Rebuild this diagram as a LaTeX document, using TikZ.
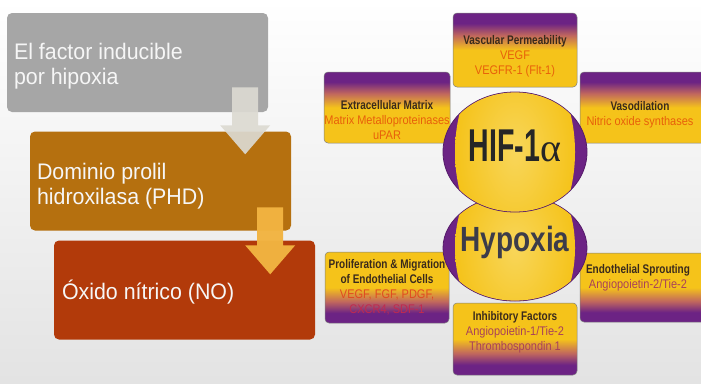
\documentclass[tikz,border=0pt]{standalone}
\usepackage{fontspec}
\setmainfont{Liberation Sans}
\newfontfamily\leftfont[FakeStretch=0.95]{Liberation Sans}
\newfontfamily\condfont[FakeStretch=0.8]{Liberation Sans}
\newfontfamily\subfont[FakeStretch=0.88]{Liberation Sans}
\newfontfamily\hiffont[FakeStretch=0.62]{Liberation Sans}
\newfontfamily\greekfont{Liberation Serif}
\usetikzlibrary{calc,shapes.geometric,fadings}

\definecolor{hyyellow}{HTML}{F5C31A}
\definecolor{hylight}{HTML}{F8D65A}
\definecolor{hypurple}{HTML}{6C2384}
\definecolor{hymid}{HTML}{C0665E}
\definecolor{titletext}{HTML}{3A2A1C}
\definecolor{orangetext}{HTML}{E8600A}
\definecolor{redtext}{HTML}{E04A20}
\definecolor{crimsontext}{HTML}{C02A50}
\definecolor{plumtext}{HTML}{A8405A}
\definecolor{hypoxiatext}{HTML}{3C3C4A}
\definecolor{lefttextcol}{HTML}{F6F6F6}
\definecolor{greybox}{HTML}{A6A6A6}
\definecolor{brownbox}{HTML}{B5700F}
\definecolor{redbox}{HTML}{B23A0A}
\definecolor{palearrow}{HTML}{DCDAD2}
\definecolor{goldarrow}{HTML}{F2B441}

\pgfdeclareverticalshading{purpletop}{100bp}{color(0bp)=(hyyellow); color(25bp)=(hyyellow); color(50bp)=(hyyellow); color(60bp)=(hymid); color(68bp)=(hypurple); color(100bp)=(hypurple)}
\pgfdeclareverticalshading{purplebottom}{100bp}{color(0bp)=(hypurple); color(32bp)=(hypurple); color(40bp)=(hymid); color(50bp)=(hyyellow); color(100bp)=(hyyellow)}
\pgfdeclareradialshading{ballmask}{\pgfpointorigin}{color(0bp)=(pgftransparent!0); color(30bp)=(pgftransparent!0); color(50bp)=(pgftransparent!100)}
\pgfdeclarefading{ballfade}{\pgfuseshading{ballmask}}

\newcommand\boxtitle[1]{{\condfont\bfseries\color{titletext}#1}}

\begin{document}
\begin{tikzpicture}[x=1pt, y=-1pt,
    leftbox/.style={rounded corners=5pt, minimum width=261pt, minimum height=99pt, inner sep=0pt},
    lefttext/.style={anchor=north west, align=left, inner sep=0pt, text=lefttextcol, font=\leftfont\fontsize{22.5}{24.5}\selectfont},
    effectbox/.style={draw=black!50, line width=0.5pt, rounded corners=4pt, inner sep=0pt, minimum width=124pt, minimum height=71pt},
    purpletopbox/.style={effectbox, shading=purpletop},
    purplebottombox/.style={effectbox, shading=purplebottom},
    effecttext/.style={align=center, inner sep=0pt, text=orangetext, font=\subfont\fontsize{12.5}{15}\selectfont},
    ball/.style={ellipse, minimum width=144pt, draw=hypurple!80!black, line width=0.8pt, fill=hypurple, inner sep=0pt}]
% Variables: 1 := tip, 2 := colour.
\def\blockarrow(#1)#2{
    \fill[#2] ($ (#1) + (-13,-67) $) -- ($ (#1) + (13,-67) $) -- ($ (#1) + (13,-29) $)
        -- ($ (#1) + (25,-29) $) -- (#1) -- ($ (#1) + (-25,-29) $) -- ($ (#1) + (-13,-29) $) -- cycle;
}
% Variables: 1 := ball, 2 := half height, 3 := glow height.
\def\ballglow(#1)#2#3{
    \begin{scope}
        \clip (#1.center) ellipse [x radius=71.6, y radius=#2];
        \shade[inner color=hylight, outer color=hyyellow, path fading=ballfade] (#1.center) ellipse [x radius=60, y radius=#3];
    \end{scope}
}
\useasboundingbox (0,0) rectangle (701,383);
\shade[top color=white, bottom color=black!11] (0,0) rectangle (701,383);

% left column
\node[leftbox, fill=greybox] (factor) at (137.5,62.5) {};
\node[lefttext] (factortext) at ($ (factor.north west) + (7,30.5) $) {El factor inducible\\por hipoxia};
\node[leftbox, fill=brownbox] (phd) at (160.5,181) {};
\node[lefttext] (phdtext) at ($ (phd.north west) + (7,32) $) {Dominio prolil\\hidroxilasa (PHD)};
\coordinate (tip1) at ($ (phd.north east) + (-46,23) $);
\blockarrow(tip1){palearrow, opacity=0.92}
\node[leftbox, fill=redbox] (no) at (184.5,290) {};
\node[lefttext, anchor=base west] (notext) at ($ (no.north west) + (8,59) $) {Óxido nítrico (NO)};
\coordinate (tip2) at ($ (no.north east) + (-45,34) $);
\blockarrow(tip2){goldarrow, opacity=0.97}

% effect boxes
\node[purpletopbox, minimum height=74pt] (perm) at (515,50) {};
\node[purpletopbox, minimum width=126pt] (ecm) at (387,107.5) {};
\node[purpletopbox, minimum width=132pt] (vaso) at (646,107.5) {};
\node[purplebottombox] (prolif) at (387,287.5) {};
\node[purplebottombox, minimum height=72pt] (inhib) at (515,339) {};
\node[purplebottombox, minimum width=132pt, minimum height=69pt] (sprout) at (646,287.5) {};

\node[effecttext] (permtext) at ($ (perm) + (0,6) $) {\boxtitle{Vascular Permeability}\\VEGF\\VEGFR-1 (Flt-1)};
\node[effecttext] (ecmtext) at ($ (ecm) + (0,13) $) {\boxtitle{Extracellular Matrix}\\Matrix Metalloproteinases\\uPAR};
\node[effecttext] (vasotext) at ($ (vaso) + (-6,7.5) $) {\boxtitle{Vasodilation}\\Nitric oxide synthases};
\node[effecttext] (proliftext) at ($ (prolif) + (0,0) $) {\boxtitle{Proliferation \& Migration}\\\boxtitle{of Endothelial Cells}\\{\color{redtext}VEGF, FGF, PDGF,}\\{\color{crimsontext}CXCR4, SDF-1}};
\node[effecttext, text=plumtext] (inhibtext) at ($ (inhib) + (0,-7) $) {\boxtitle{Inhibitory Factors}\\Angiopoietin-1/Tie-2\\Thrombospondin 1};
\node[effecttext, text=plumtext] (sprouttext) at ($ (sprout) + (-8,-10) $) {\boxtitle{Endothelial Sprouting}\\Angiopoietin-2/Tie-2};

% centre
\node[ball, minimum height=106pt] (hypoxia) at (515,248) {};
\ballglow(hypoxia){52.6}{90}
\node[ball, minimum height=120pt] (hif) at (515,152) {};
\ballglow(hif){59.6}{100}
\node[text=black!85, font=\fontsize{46}{50}\selectfont] (hiftext) at ($ (hif) + (0,-6) $) {{\hiffont\bfseries HIF-1}{\greekfont\fontsize{40}{44}\selectfont α}};
\node[text=hypoxiatext, font=\condfont\bfseries\fontsize{35}{40}\selectfont] (hypoxiatext) at ($ (hypoxia) + (0,-6) $) {Hypoxia};
\end{tikzpicture}
\end{document}
